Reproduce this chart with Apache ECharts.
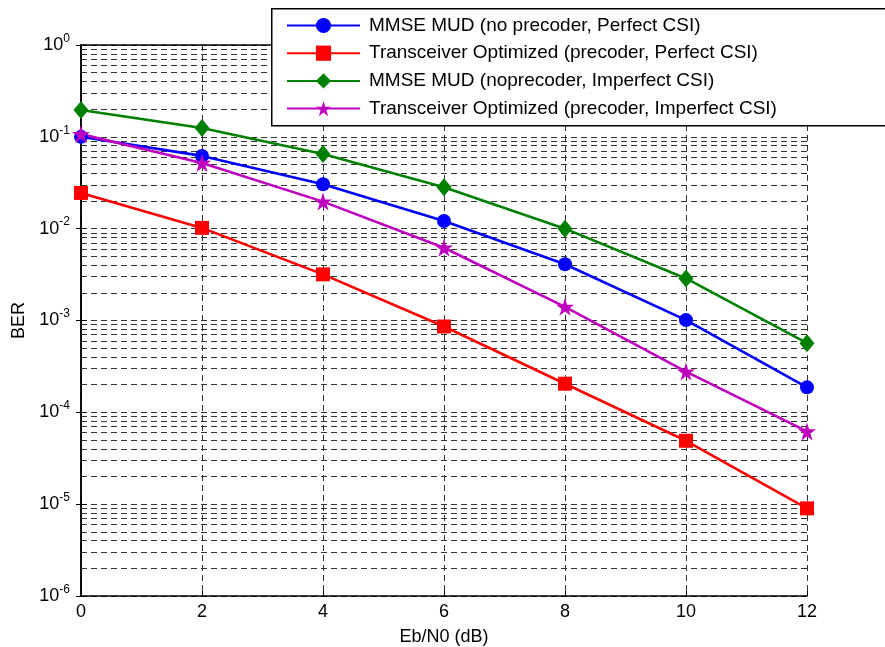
<!DOCTYPE html>
<html>
<head>
<meta charset="utf-8">
<script src="https://cdn.jsdelivr.net/npm/echarts@6/dist/echarts.min.js"></script>
<style>html,body{margin:0;padding:0;background:#fff}#c{width:885px;height:647px}</style>
</head>
<body>
<div id="c"></div>
<script>
var snr = [0, 2, 4, 6, 8, 10, 12];
var mmsePerfect = [0.100, 0.062, 0.0304, 0.0121, 0.0041, 0.00101, 0.000187];
var toPerfect = [0.0245, 0.0102, 0.00318, 0.00086, 0.000205, 0.000049, 0.0000090];
var mmseImperfect = [0.196, 0.125, 0.065, 0.0283, 0.0100, 0.00287, 0.000566];
var toImperfect = [0.107, 0.052, 0.0197, 0.0062, 0.00141, 0.000278, 0.0000620];
var seriesNames = [
  'MMSE MUD (no precoder, Perfect CSI)',
  'Transceiver Optimized (precoder, Perfect CSI)',
  'MMSE MUD (noprecoder, Imperfect CSI)',
  'Transceiver Optimized (precoder, Imperfect CSI)'
];
var FONT = '"Liberation Sans", Arial, Helvetica, sans-serif';
var STAR = 'path://M50 0 L61.17 34.63 L97.55 34.55 L68.07 55.87 L79.39 90.45 L50 69 L20.61 90.45 L31.93 55.87 L2.45 34.55 L38.83 34.63 Z';

// minor grid values 2..9 x 10^k (grid, not data)
var minorVals = [];
for (var k = -6; k < 0; k++) {
  for (var m = 2; m <= 9; m++) minorVals.push(m * Math.pow(10, k));
}
var gridDash = {type: [6, 4], color: '#333', width: 1};

function pairs(arr) { return snr.map(function (x, i) { return [x, arr[i]]; }); }

var chart = echarts.init(document.getElementById('c'), null, {renderer: 'canvas'});
var supLabel = function (v) {
  var e = Math.round(Math.log10(v));
  return '{b|10}{s|' + e + '}';
};
chart.setOption({
  backgroundColor: '#fff',
  animation: false,
  textStyle: {fontFamily: FONT},
  grid: {left: 81, top: 45, right: 78, bottom: 51, containLabel: false, outerBoundsMode: 'none'},
  xAxis: [{
    type: 'value', min: 0, max: 12, interval: 2,
    name: 'Eb/N0 (dB)', nameLocation: 'middle', nameGap: 32,
    nameTextStyle: {fontSize: 18, color: '#000', fontFamily: FONT},
    axisLine: {lineStyle: {color: '#000', width: 1.5}},
    axisTick: {inside: true, length: 5, lineStyle: {color: '#000'}},
    axisLabel: {fontSize: 18, color: '#000', margin: 7, fontFamily: FONT},
    splitLine: {show: true, lineStyle: gridDash}
  }, {
    type: 'value', min: 0, max: 12, interval: 2, position: 'top',
    axisLine: {show: true, lineStyle: {color: '#000', width: 1.5}},
    axisTick: {inside: true, length: 5, lineStyle: {color: '#000'}},
    axisLabel: {show: false}, splitLine: {show: false}
  }],
  yAxis: [{
    type: 'log', logBase: 10, min: 1e-6, max: 1,
    name: 'BER', nameLocation: 'middle', nameGap: 46,
    nameTextStyle: {fontSize: 18, color: '#000', fontFamily: FONT},
    axisLine: {show: true, lineStyle: {color: '#000', width: 1.5}},
    axisTick: {inside: true, length: 5, lineStyle: {color: '#000'}},
    axisLabel: {
      color: '#000', margin: 11, formatter: supLabel,
      rich: {
        b: {fontSize: 18, color: '#000', fontFamily: FONT},
        s: {fontSize: 12, color: '#000', fontFamily: FONT, padding: [0, 0, 13, 0]}
      }
    },
    splitLine: {show: true, lineStyle: gridDash}
  }, {
    type: 'log', logBase: 10, min: 1e-6, max: 1, position: 'right',
    axisLine: {show: true, lineStyle: {color: '#000', width: 1.5}},
    axisTick: {inside: true, length: 5, lineStyle: {color: '#000'}},
    axisLabel: {show: false}, splitLine: {show: false}
  }],
  legend: {
    orient: 'vertical', left: 286, top: 16, padding: 0,
    itemWidth: 73, itemHeight: 19, itemGap: 8.7,
    textStyle: {fontSize: 19, color: '#000', fontFamily: FONT, padding: [0, 0, 0, 4]},
    data: seriesNames, z: 10
  },
  graphic: [{
    type: 'rect', left: 271, top: 8, z: 5,
    shape: {width: 640, height: 117},
    style: {fill: '#fff', stroke: '#000', lineWidth: 1.5}
  }],
  series: [{
    name: seriesNames[0], type: 'line', data: pairs(mmsePerfect),
    symbol: 'circle', symbolSize: 14,
    lineStyle: {color: '#0000ff', width: 2.6}, itemStyle: {color: '#0000ff'},
    markLine: {
      silent: true, symbol: 'none', animation: false, z: 1, precision: 12,
      label: {show: false},
      lineStyle: gridDash,
      emphasis: {disabled: true},
      data: minorVals.map(function (v) { return {yAxis: v}; })
    },
    z: 3
  }, {
    name: seriesNames[1], type: 'line', data: pairs(toPerfect),
    symbol: 'rect', symbolSize: 14,
    lineStyle: {color: '#ff0000', width: 2.6}, itemStyle: {color: '#ff0000'}, z: 3
  }, {
    name: seriesNames[2], type: 'line', data: pairs(mmseImperfect),
    symbol: 'diamond', symbolSize: [15, 18],
    lineStyle: {color: '#008000', width: 2.6}, itemStyle: {color: '#008000'}, z: 3
  }, {
    name: seriesNames[3], type: 'line', data: pairs(toImperfect),
    symbol: STAR, symbolSize: 18,
    lineStyle: {color: '#bf00bf', width: 2.6}, itemStyle: {color: '#bf00bf'}, z: 3
  }]
});
</script>
</body>
</html>
